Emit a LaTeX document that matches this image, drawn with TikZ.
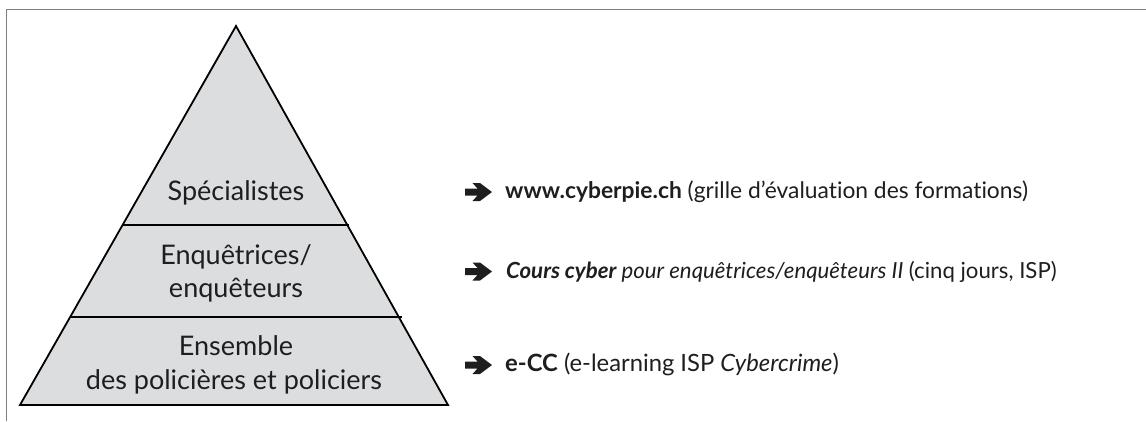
\documentclass[tikz,border=0pt]{standalone}
\usepackage{fontspec}
\setmainfont{Lato}[Ligatures=NoCommon]
\definecolor{framegray}{HTML}{7F7F7F}
\definecolor{layerfill}{HTML}{DCDDDF}
\definecolor{ink}{HTML}{1E1E1E}
\tikzset{
  layertext/.style={anchor=base, text=ink, font=\fontsize{27}{32}\selectfont, inner sep=0pt},
  itemtext/.style={anchor=base west, text=ink, font=\fontsize{23}{27}\selectfont, inner sep=0pt},
  pointer/.style={fill=ink, draw=none},
}
\newcommand{\pointerat}[1]{%
  \fill[pointer, shift={(#1)}]
    (-13.5,-3.5) -- (-1,-3.5) -- (-6,-9) -- (1.5,-9) -- (13.5,0)
    -- (1.5,9) -- (-6,9) -- (-1,3.5) -- (-13.5,3.5) -- cycle;}
\begin{document}
\begin{tikzpicture}[x=1pt, y=-1pt]
  \useasboundingbox (0,0) rectangle (1146,421);
  % open frame: top and left edges
  \draw[framegray, line width=1.5pt] (6.5,421) -- (6.5,9.5) -- (1146,9.5);

  % pyramid with three layers
  \coordinate (apex) at (236,26);
  \coordinate (bl) at (20,405);
  \coordinate (br) at (448,405);
  \filldraw[fill=layerfill, draw=black, line width=1.8pt, line join=miter] (apex) -- (br) -- (bl) -- cycle;
  \draw[black, line width=1.8pt] (122.6,225) -- (349.4,225);
  \draw[black, line width=1.8pt] (70.2,317) -- (401.8,317);

  \node[layertext] (spec) at (236,200) {Spécialistes};
  \node[layertext] (enq1) at (236,264) {Enquêtrices/};
  \node[layertext] (enq2) at (236,297) {enquêteurs};
  \node[layertext] (ens1) at (236,355) {Ensemble};
  \node[layertext] (ens2) at (234,389) {des policières et policiers};

  % arrows and training offers
  \coordinate (p1) at (478.5,192);
  \coordinate (p2) at (478.5,271.5);
  \coordinate (p3) at (478.5,365);
  \pointerat{p1}
  \pointerat{p2}
  \pointerat{p3}
  \node[itemtext, font=\fontsize{22.8}{27}\selectfont] (t1) at (505,198.5) {\textbf{www.cyberpie.ch} (grille d’évaluation des formations)};
  \node[itemtext, font=\fontsize{22.2}{27}\selectfont] (t2) at (506,278) {\textit{\textbf{Cours cyber} pour enquêtrices/enquêteurs II} (cinq jours, ISP)};
  \node[itemtext, font=\fontsize{23.8}{27}\selectfont] (t3) at (505,371.5) {\textbf{e-CC} (e-learning ISP \textit{Cybercrime})};
\end{tikzpicture}
\end{document}
